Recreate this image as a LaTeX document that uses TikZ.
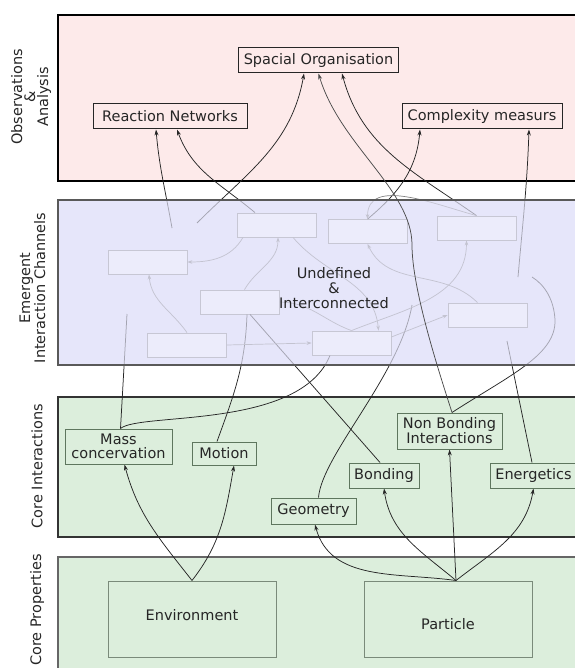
\documentclass[tikz,border=0pt]{standalone}
\usepackage{fontspec}
\setmainfont{DejaVu Sans}
\usetikzlibrary{arrows.meta,calc}
\definecolor{pinkbg}{HTML}{FDEAEA}
\definecolor{bluebg}{HTML}{E6E6FA}
\definecolor{greenbg}{HTML}{DCEEDC}
\definecolor{ink}{HTML}{262626}
\definecolor{greenline}{HTML}{5E765E}
\definecolor{propline}{HTML}{7A8A7A}
\pgfdeclarelayer{bg}\pgfdeclarelayer{under}\pgfdeclarelayer{veil}
\pgfsetlayers{bg,under,veil,main}
\begin{document}
\begin{tikzpicture}[x=1pt,y=-1pt,
  every node/.style={font=\fontsize{14.5}{13}\selectfont, text=ink},
  panelline/.style={draw=ink, line width=1.2pt},
  obsbox/.style={draw=ink, fill=pinkbg, line width=1pt, minimum height=25pt, inner sep=0pt},
  corebox/.style={draw=greenline, fill=greenbg, line width=1pt, inner sep=0pt},
  twoline/.style={align=center, font=\fontsize{14.5}{13.5}\selectfont},
  propbox/.style={draw=propline, fill=greenbg, line width=1pt, inner sep=0pt, minimum width=168pt, minimum height=76pt},
  chbox/.style={draw=black!45, fill=white!70!bluebg, line width=0.8pt, minimum width=79pt, minimum height=24pt, inner sep=0pt},
  arr/.style={draw=ink, line width=0.75pt, -{Stealth[length=6pt,width=4pt]}},
  ln/.style={draw=ink, line width=0.75pt},
  inarr/.style={draw=black!50, line width=0.7pt, -{Stealth[length=5pt,width=3.5pt]}},
  inln/.style={draw=black!50, line width=0.7pt},
  rotlabel/.style={rotate=90, align=center}
]
\useasboundingbox (0,0) rectangle (574,668);

% ---------- panels ----------
\begin{pgfonlayer}{bg}
  \fill[pinkbg] (58,15) rectangle (590,181);
  \fill[bluebg] (58,200) rectangle (590,365);
  \fill[greenbg] (58,397) rectangle (590,537);
  \fill[greenbg] (58,557) rectangle (590,690);
  \draw[panelline, draw=black] (58,15) rectangle (590,181);
  \draw[panelline, draw=black!80] (58,397) rectangle (590,537);
  \draw[panelline, draw=black!60] (58,557) rectangle (590,690);
\end{pgfonlayer}

% ---------- left labels ----------
\node[rotlabel] (lobs) at (31,97) {Observations\\\&\\Analysis};
\node[rotlabel] (lemg) at (32.5,288) {Emergent\\Interaction Channels};
\node[rotlabel] (lci) at (37,466) {Core Interactions};
\node[rotlabel] (lcp) at (37,610) {Core Properties};

% ---------- observation nodes ----------
\node[obsbox, minimum width=160pt] (spac) at (318.5,60.5) {Spacial Organisation};
\node[obsbox, minimum width=154pt] (react) at (170,116.5) {Reaction Networks};
\node[obsbox, minimum width=160pt] (cplx) at (482,116.5) {Complexity measurs};

% ---------- emergent channel boxes ----------
\begin{pgfonlayer}{under}
  \node[chbox] (A) at (147.5,262) {};
  \node[chbox] (B) at (277,225) {};
  \node[chbox] (C) at (367.5,231.5) {};
  \node[chbox] (D) at (476.5,228) {};
  \node[chbox] (E) at (239.5,302) {};
  \node[chbox] (F) at (487.5,315) {};
  \node[chbox] (G) at (187,345) {};
  \node[chbox] (H) at (351.5,343) {};
\end{pgfonlayer}

% ---------- core interactions ----------
\node[corebox, twoline, minimum width=107pt, minimum height=35pt] (mass) at (118.5,446.5) {Mass\\concervation};
\node[corebox, minimum width=64pt, minimum height=23pt] (motion) at (224,453.5) {Motion};
\node[corebox, twoline, minimum width=105pt, minimum height=36pt] (nonb) at (449.5,431) {Non Bonding\\Interactions};
\node[corebox, minimum width=70pt, minimum height=25pt] (bond) at (384,475.5) {Bonding};
\node[corebox, minimum width=87pt, minimum height=25pt] (energ) at (533.5,475.5) {Energetics};
\node[corebox, minimum width=85pt, minimum height=26pt] (geom) at (313.5,511) {Geometry};

% ---------- core properties ----------
\node[propbox, text height=10.6pt, text depth=8pt] (env) at (192,619) {Environment};
\node[propbox, text height=20.6pt, text depth=0pt] (part) at (448,619) {Particle};

% ---------- free ends inside the emergent panel ----------
\coordinate (pp) at ([xshift=8pt]part.north);
\coordinate (fr1) at (172,228);
\coordinate (fs1) at (197,223);
\coordinate (fm1) at (127,314);
\coordinate (fg1) at (412,305);
\coordinate (fe1) at (507,341);
\coordinate (fn1) at (532,277);
\coordinate (fc2) at (518,277);

\begin{pgfonlayer}{under}
  % properties -> interactions
  \draw[arr] (env.north) to[out=128,in=-75] ([xshift=6pt]mass.south);
  \draw[arr] (env.north) to[out=52,in=-100] ([xshift=10pt]motion.south);
  \draw[arr] (pp) to[out=172,in=-75] ([xshift=1.5pt]geom.south);
  \draw[arr] (pp) to[out=140,in=-82] (bond.south);
  \draw[arr] (pp) -- (nonb.south);
  \draw[arr] (pp) to[out=38,in=-100] (energ.south);

  % interactions -> emergent channels
  \draw[ln] ([xshift=2pt]mass.north) -- (fm1);
  \draw[ln] ([xshift=2pt]mass.north) .. controls (140,412) and (300,430) .. ([xshift=-21.5pt]H.south);
  \draw[ln] ([xshift=-7pt]motion.north) to[out=70,in=-92] ([xshift=7.5pt]E.south);
  \draw[ln] ([xshift=-4pt]bond.north) -- ([xshift=10.5pt]E.south);
  \draw[ln] ([xshift=5pt]geom.north) .. controls (322,455) and (400,375) .. (fg1);
  \draw[ln] ([xshift=-1.5pt]energ.north) -- (fe1);
  \draw[ln] ([xshift=2.5pt]nonb.north) .. controls (510,375) and (556,355) .. (555,320)
            .. controls (554,300) and (545,285) .. (fn1);

  % emergent channels -> observations
  \draw[arr] (fr1) to[out=100,in=-85] ([xshift=-14pt]react.south);
  \draw[arr] ([xshift=-22pt]B.north) to[out=140,in=-70] ([xshift=7pt]react.south);
  \draw[arr] (fs1) to[out=45,in=-100] ([xshift=-14.5pt]spac.south);
  \draw[arr] (D.north) to[out=145,in=-75] ([xshift=23.5pt]spac.south);
  \draw[arr] (C.north) to[out=40,in=-95] ([xshift=-62pt]cplx.south);
  \draw[arr] (fc2) to[out=85,in=-92] ([xshift=47pt]cplx.south);

  % inside the emergent panel
  \draw[inarr] ([xshift=-34pt]B.south) to[out=-120,in=0] (A.east);
  \draw[inarr] ([xshift=5pt]E.north) to[out=60,in=-90] ([xshift=1pt]B.south);
  \draw[inarr] (G.north) to[out=125,in=-85] ([xshift=1.5pt]A.south);
  \draw[inarr] (G.east) -- (H.west);
  \draw[inln] (E.east) to[out=0,in=160] (H.north);
  \draw[inarr] (H.north) to[out=22,in=-90] ([xshift=-10pt]D.south);
  \draw[inarr] ([yshift=6pt]H.east) -- (F.west);
  \draw[inarr] ([xshift=-10pt]F.north) to[out=135,in=-65] (C.south);
  \draw[inarr] ([xshift=16pt]B.south) to[out=-50,in=95] ([xshift=27pt]H.north);
  \draw[inarr] (D.north) to[out=165,in=90] (C.north);
\end{pgfonlayer}

% ---------- veil over the emergent panel ----------
\begin{pgfonlayer}{veil}
  \fill[bluebg, fill opacity=0.66] (58,200) rectangle (590,365);
  \draw[panelline, draw=black!65] (58,200) rectangle (590,365);
\end{pgfonlayer}

\node[align=center, font=\fontsize{14.5}{15}\selectfont] (undef) at (334,288) {Undefined\\\&\\Interconnected};

% the one strong line crossing the emergent panel
\draw[arr, draw=black!70] ([xshift=2.5pt]nonb.north) .. controls (440,375) and (412,290) .. (412,245)
      .. controls (412,190) and (340,145) .. (spac.south);
\end{tikzpicture}
\end{document}
